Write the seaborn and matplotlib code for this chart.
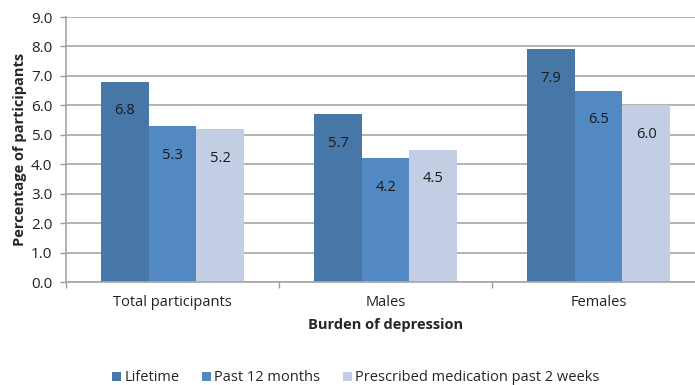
import matplotlib
matplotlib.use("Agg")
import matplotlib.pyplot as plt
import seaborn as sns
import pandas as pd

groups = ["Total participants", "Males", "Females"]
series = ["Lifetime", "Past 12 months", "Prescribed medication past 2 weeks"]
lifetime = [6.8, 5.7, 7.9]
past_12_months = [5.3, 4.2, 6.5]
prescribed_2_weeks = [5.2, 4.5, 6.0]
y_ticks = [0.0, 1.0, 2.0, 3.0, 4.0, 5.0, 6.0, 7.0, 8.0, 9.0]
colors = ["#4777A7", "#5289C2", "#C3CEE4"]

rows = []
for name, vals in zip(series, [lifetime, past_12_months, prescribed_2_weeks]):
    for g, v in zip(groups, vals):
        rows.append({"group": g, "series": name, "value": v})
df = pd.DataFrame(rows)

sns.set_theme(style="white")
plt.rcParams["font.family"] = ["Open Sans", "DejaVu Sans"]

fig = plt.figure(figsize=(6.95, 3.85), dpi=100)
ax = fig.add_axes([0.095, 0.2675, 0.9194, 0.6883])

sns.barplot(data=df, x="group", y="value", hue="series", order=groups,
            hue_order=series, palette=colors, width=0.67, saturation=1,
            edgecolor="none", ax=ax, legend=True)

for cont in ax.containers:
    for bar in cont:
        h = bar.get_height()
        ax.annotate(f"{h:.1f}", (bar.get_x() + bar.get_width() / 2, h),
                    xytext=(0, -21), textcoords="offset points",
                    ha="center", va="center", fontsize=10.5, color="#1a1a1a")

ax.set_ylim(0, 9)
ax.set_yticks(y_ticks)
ax.set_yticklabels([f"{t:.1f}" for t in y_ticks], fontsize=11, color="#222222")
ax.set_xlim(-0.5, 2.5)
ax.set_xticks(range(len(groups)))
ax.set_xticklabels(groups, fontsize=10.5, color="#222222")
ax.set_xticks([-0.5, 0.5, 1.5, 2.5], minor=True)
ax.tick_params(axis="x", which="major", length=0, pad=9)
ax.tick_params(axis="x", which="minor", length=4, color="#999999", width=1, direction="out", bottom=True)
ax.tick_params(axis="y", length=4, color="#999999", width=1, direction="out", left=True, pad=6)

ax.yaxis.grid(True, color="#A6A6A6", linewidth=1.2)
ax.set_axisbelow(True)
for s in ["top", "right"]:
    ax.spines[s].set_visible(False)
for s in ["left", "bottom"]:
    ax.spines[s].set_color("#A6A6A6")
    ax.spines[s].set_linewidth(1.2)

ax.set_xlabel("Burden of depression", fontsize=10.5, fontweight="bold", labelpad=6)
ax.set_ylabel("Percentage of participants", fontsize=10.5, fontweight="bold", labelpad=3)

handles, labels = ax.get_legend_handles_labels()
ax.get_legend().remove()
fig.legend(handles, labels, loc="lower center", bbox_to_anchor=(0.512, -0.035), ncol=3,
           frameon=False, fontsize=10.5, handlelength=0.6, handleheight=0.6,
           handletextpad=0.25, columnspacing=1.55)

fig.savefig("out.png", dpi=100)
